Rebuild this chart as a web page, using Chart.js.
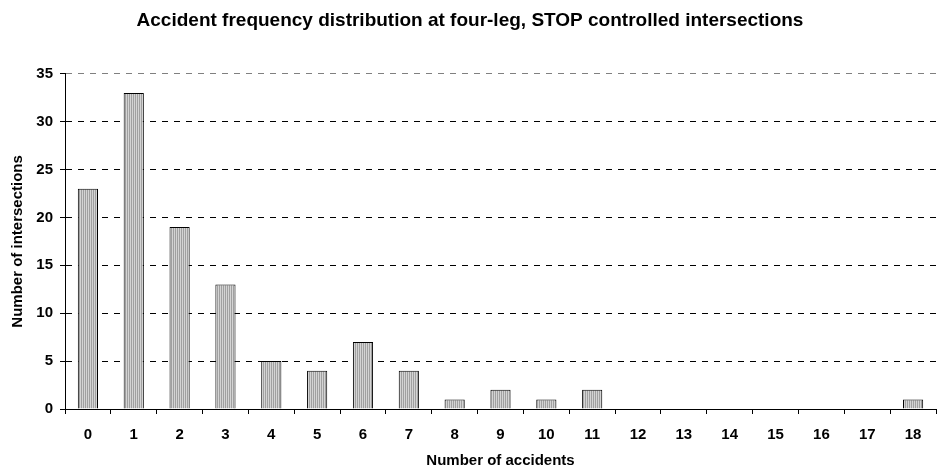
<!DOCTYPE html>
<html>
<head>
<meta charset="utf-8">
<script src="https://cdn.jsdelivr.net/npm/chart.js@4"></script>
<style>
  body { margin: 0; background: #fff; }
  #wrap { width: 940px; height: 470px; }
</style>
</head>
<body>
<div id="wrap"><canvas id="myChart" width="940" height="470"></canvas></div>
<script>
const categories = ["0","1","2","3","4","5","6","7","8","9","10","11","12","13","14","15","16","17","18"];
const intersections = [23, 33, 19, 13, 5, 4, 7, 4, 1, 2, 1, 2, 0, 0, 0, 0, 0, 0, 1];
const yTicks = [0, 5, 10, 15, 20, 25, 30, 35];

// vertical stripe fill like the old Excel pattern
const pc = document.createElement("canvas");
pc.width = 2; pc.height = 4;
const px = pc.getContext("2d");
px.fillStyle = "#d4d4d4"; px.fillRect(0, 0, 1, 4);
px.fillStyle = "#a0a0a0"; px.fillRect(1, 0, 1, 4);
const ctx = document.getElementById("myChart").getContext("2d");
const stripes = ctx.createPattern(pc, "repeat");

const family = "'Liberation Sans', Arial, sans-serif";
const font = { family: family, weight: "bold", size: 15 };

new Chart(ctx, {
  type: "bar",
  data: {
    labels: categories,
    datasets: [{
      label: "Number of intersections",
      data: intersections,
      backgroundColor: stripes,
      borderColor: "#000",
      borderWidth: 1,
      categoryPercentage: 0.44,
      barPercentage: 1,
    }],
  },
  options: {
    responsive: false,
    animation: false,
    layout: { padding: { top: 0, right: 4, left: 4, bottom: 0 } },
    plugins: {
      legend: { display: false },
      tooltip: { enabled: false },
      title: {
        display: true,
        text: "Accident frequency distribution at four-leg, STOP controlled intersections",
        color: "#000",
        font: { family: family, weight: "bold", size: 19 },
        padding: { top: 9, bottom: 42 },
      },
    },
    scales: {
      x: {
        offset: true,
        grid: { offset: true, drawOnChartArea: false, color: "#000", tickLength: 5, tickColor: "#000" },
        border: { color: "#000", width: 1 },
        ticks: { color: "#000", font: font, padding: 12, maxRotation: 0, autoSkip: false },
        title: { display: true, text: "Number of accidents", color: "#000", font: font, padding: { top: 11, bottom: 0 } },
        afterFit: (axis) => { axis.height = 61; },
      },
      y: {
        min: 0, max: 35,
        afterBuildTicks: (axis) => { axis.ticks = yTicks.map(v => ({ value: v })); },
        grid: {
          color: (c) => (c.tick && c.tick.value === 35 ? "#808080" : "#000"),
          tickLength: 5, tickBorderDash: [], tickColor: "#000",
        },
        border: { color: "#000", width: 1, dash: [6, 6] },
        ticks: { color: "#000", font: font, padding: 7 },
        title: { display: true, text: "Number of intersections", color: "#000", font: font, padding: { top: 5, bottom: 0 } },
        afterFit: (axis) => { axis.width = 61; },
      },
    },
  },
});
</script>
</body>
</html>
